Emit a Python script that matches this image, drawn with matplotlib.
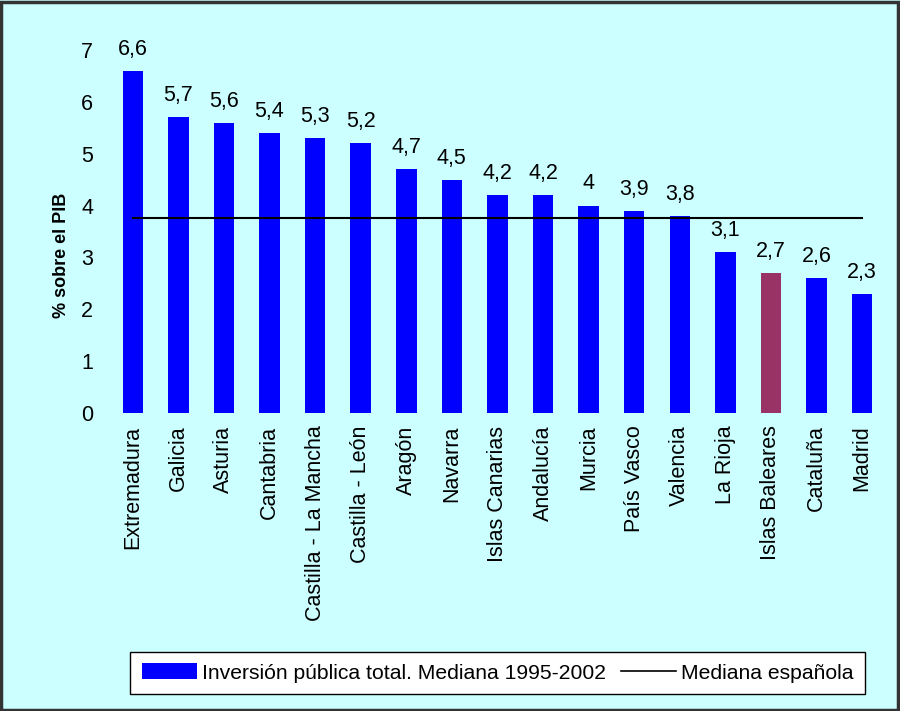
import matplotlib.pyplot as plt
from matplotlib.patches import Patch, Rectangle
from matplotlib.lines import Line2D

plt.rcParams['font.family'] = ['Liberation Sans', 'DejaVu Sans']

regiones = ['Extremadura', 'Galicia', 'Asturia', 'Cantabria', 'Castilla - La Mancha',
            'Castilla - León', 'Aragón', 'Navarra', 'Islas Canarias', 'Andalucía',
            'Murcia', 'País Vasco', 'Valencia', 'La Rioja', 'Islas Baleares',
            'Cataluña', 'Madrid']
inversion = [6.6, 5.7, 5.6, 5.4, 5.3, 5.2, 4.7, 4.5, 4.2, 4.2, 4.0, 3.9, 3.8, 3.1, 2.7, 2.6, 2.3]
etiquetas = ['6,6', '5,7', '5,6', '5,4', '5,3', '5,2', '4,7', '4,5', '4,2', '4,2', '4',
             '3,9', '3,8', '3,1', '2,7', '2,6', '2,3']
mediana_esp = 3.76

bg = '#CCFFFF'
colores = ['#0000FF'] * len(regiones)
colores[regiones.index('Islas Baleares')] = '#993366'

fig = plt.figure(figsize=(9, 7.11), dpi=100)
fig.patch.set_facecolor(bg)
ax = fig.add_axes([0.1222, 0.4191, 0.861, 0.5105])
ax.set_facecolor(bg)

x = list(range(len(regiones)))
ax.bar(x, inversion, width=0.45, color=colores)
ax.plot([x[0], x[-1]], [mediana_esp, mediana_esp], color='black', lw=1.5)

for xi, v, t in zip(x, inversion, etiquetas):
    ax.annotate(t, (xi, v), xytext=(0, 8), textcoords='offset points',
                ha='center', va='bottom', fontsize=15.5, annotation_clip=False)

ax.set_xlim(-0.5, len(regiones) - 0.5)
ax.set_ylim(0, 7)
ax.set_yticks(range(8))
ax.tick_params(axis='y', length=0, labelsize=15.5, pad=12)
ax.tick_params(axis='x', length=0, labelsize=15.5, pad=9)
ax.set_xticks(x)
ax.set_xticklabels(regiones, rotation=90)
for s in ax.spines.values():
    s.set_visible(False)
ax.set_ylabel('% sobre el PIB', fontsize=13, fontweight='bold')
ax.yaxis.set_label_coords(-0.052, 0.435)

handles = [Patch(facecolor='#0000FF'), Line2D([], [], color='black', lw=1.2)]
leg = fig.legend(handles, ['Inversión pública total. Mediana 1995-2002', 'Mediana española'],
                 loc='center', bbox_to_anchor=(0.553, 0.0535), ncol=2,
                 fontsize=15.2,
                 frameon=True, fancybox=False, edgecolor='black', framealpha=1,
                 handlelength=2.6, handleheight=0.8, handletextpad=0.25, columnspacing=0.7,
                 borderpad=0.55)
leg.get_frame().set_linewidth(1.0)

fig.patches.append(Rectangle((0.001, 0.002), 0.997, 0.995, transform=fig.transFigure,
                             fill=False, edgecolor='#333333', lw=2.5))

fig.savefig('out.png', dpi=100, facecolor=bg)
